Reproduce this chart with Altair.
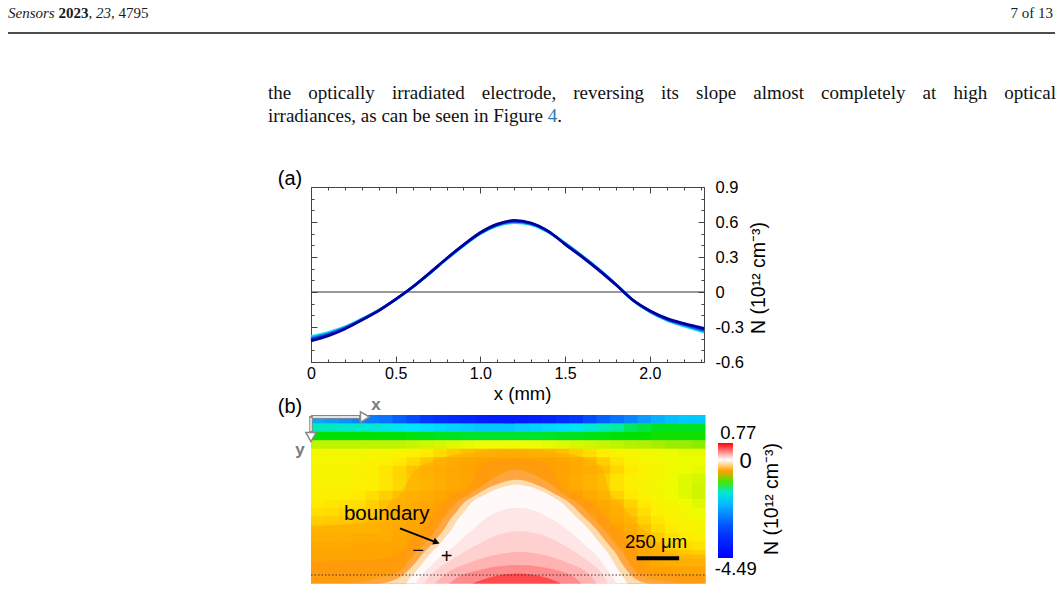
import altair as alt
import pandas as pd

W, H = 1061, 608
SANS = "Liberation Sans"
SERIF = "Liberation Serif"

# ---------------- page text ----------------
header_journal = "Sensors"
header_year = "2023"
header_volume = "23"
header_article = "4795"
header_page = "7 of 13"
body_line1 = "the optically irradiated electrode, reversing its slope almost completely at high optical"
body_line2 = "irradiances, as can be seen in Figure"
body_ref = "4"

# ---------------- (a) N(x) profiles ----------------
x_mm = [0.0, 0.1, 0.2, 0.3, 0.4, 0.5, 0.6, 0.7, 0.8, 0.9, 1.0, 1.1, 1.2,
        1.3, 1.4, 1.5, 1.6, 1.7, 1.8, 1.9, 2.0, 2.1, 2.2, 2.3, 2.32]
n_s1 = [-0.380, -0.347, -0.298, -0.230, -0.155, -0.063, 0.040, 0.157, 0.280, 0.395, 0.499, 0.567, 0.594,
        0.576, 0.513, 0.420, 0.312, 0.195, 0.067, -0.072, -0.171, -0.243, -0.292, -0.336, -0.345]
n_s2 = [-0.390, -0.355, -0.303, -0.233, -0.157, -0.063, 0.041, 0.159, 0.282, 0.398, 0.502, 0.571, 0.599,
        0.580, 0.516, 0.417, 0.309, 0.193, 0.066, -0.071, -0.168, -0.239, -0.286, -0.328, -0.337]
n_s3 = [-0.400, -0.362, -0.308, -0.236, -0.158, -0.063, 0.042, 0.160, 0.284, 0.400, 0.505, 0.575, 0.604,
        0.584, 0.518, 0.414, 0.306, 0.190, 0.064, -0.070, -0.165, -0.234, -0.280, -0.320, -0.328]
n_s4 = [-0.410, -0.370, -0.313, -0.239, -0.160, -0.063, 0.043, 0.162, 0.286, 0.403, 0.508, 0.579, 0.609,
        0.588, 0.521, 0.411, 0.303, 0.188, 0.063, -0.069, -0.162, -0.230, -0.274, -0.312, -0.320]
n_s5 = [-0.420, -0.377, -0.318, -0.242, -0.161, -0.063, 0.044, 0.163, 0.288, 0.405, 0.511, 0.583, 0.614,
        0.592, 0.523, 0.408, 0.300, 0.185, 0.061, -0.068, -0.159, -0.225, -0.268, -0.304, -0.311]
profile_names = ["s1", "s2", "s3", "s4", "s5"]
profile_colors = ["#1fe3f5", "#16a6f2", "#0b5fe6", "#0522c8", "#00009c"]

ticks_x_major = [0, 0.5, 1.0, 1.5, 2.0]
ticks_x_minor = [0.1, 0.2, 0.3, 0.4, 0.6, 0.7, 0.8, 0.9, 1.1, 1.2, 1.3, 1.4,
                 1.6, 1.7, 1.8, 1.9, 2.1, 2.2, 2.3]
ticks_y_major = [-0.6, -0.3, 0, 0.3, 0.6, 0.9]
ticks_y_minor = [-0.5, -0.4, -0.2, -0.1, 0.1, 0.2, 0.4, 0.5, 0.7, 0.8]

# ---------------- (b) N(x, y) map: 20 rows (top to bottom) x 29 columns ----------------
map_dx = 0.08   # mm per column
map_dy = 0.05   # mm per row
r00 = [-2.2, -2.3, -2.4, -2.5, -2.6, -2.7, -2.9, -3.1, -3.3, -3.5, -3.6, -3.7, -3.8, -3.9, -3.9,
       -3.9, -3.8, -3.7, -3.5, -3.3, -3.1, -2.9, -2.7, -2.5, -2.3, -2.1, -2.0, -1.9, -1.9]
r01 = [-1.4, -1.4, -1.45, -1.45, -1.5, -1.55, -1.6, -1.65, -1.7, -1.75, -1.8, -1.85, -1.9, -1.9, -1.9,
       -1.85, -1.8, -1.75, -1.7, -1.6, -1.5, -1.4, -1.3, -1.2, -1.15, -1.1, -1.1, -1.1, -1.1]
r02 = [-1.05, -1.05, -1.05, -1.05, -1.05, -1.06, -1.06, -1.07, -1.08, -1.09, -1.1, -1.11, -1.12, -1.12, -1.12,
       -1.12, -1.12, -1.11, -1.1, -1.09, -1.08, -1.07, -1.06, -1.05, -1.05, -1.04, -1.04, -1.04, -1.04]
r03 = [-0.9, -0.9, -0.9, -0.9, -0.9, -0.9, -0.9, -0.89, -0.88, -0.87, -0.86, -0.85, -0.84, -0.83, -0.83,
       -0.83, -0.84, -0.85, -0.86, -0.87, -0.88, -0.89, -0.9, -0.91, -0.92, -0.93, -0.94, -0.94, -0.95]
r04 = [-0.81, -0.81, -0.81, -0.81, -0.8, -0.79, -0.78, -0.76, -0.73, -0.69, -0.65, -0.62, -0.59, -0.57, -0.56,
       -0.56, -0.57, -0.59, -0.62, -0.66, -0.7, -0.74, -0.78, -0.8, -0.82, -0.83, -0.84, -0.85, -0.85]
r05 = [-0.8, -0.8, -0.79, -0.79, -0.78, -0.76, -0.73, -0.69, -0.64, -0.58, -0.53, -0.49, -0.46, -0.44, -0.43,
       -0.43, -0.44, -0.46, -0.49, -0.54, -0.6, -0.66, -0.72, -0.76, -0.79, -0.81, -0.83, -0.84, -0.84]
r06 = [-0.79, -0.79, -0.78, -0.77, -0.75, -0.72, -0.68, -0.63, -0.58, -0.54, -0.5, -0.47, -0.44, -0.38, -0.3,
       -0.3, -0.37, -0.44, -0.47, -0.51, -0.56, -0.62, -0.68, -0.73, -0.77, -0.8, -0.82, -0.84, -0.85]
r07 = [-0.78, -0.78, -0.78, -0.77, -0.75, -0.72, -0.68, -0.64, -0.6, -0.56, -0.52, -0.48, -0.43, -0.3, -0.12,
       -0.12, -0.28, -0.42, -0.48, -0.54, -0.6, -0.66, -0.71, -0.75, -0.78, -0.81, -0.84, -0.86, -0.87]
r08 = [-0.77, -0.77, -0.77, -0.76, -0.75, -0.72, -0.68, -0.64, -0.6, -0.56, -0.52, -0.48, -0.42, -0.2, 0.005,
       0.008, -0.14, -0.38, -0.47, -0.53, -0.6, -0.66, -0.71, -0.75, -0.78, -0.81, -0.84, -0.86, -0.88]
r09 = [-0.75, -0.75, -0.74, -0.73, -0.7, -0.66, -0.62, -0.58, -0.54, -0.5, -0.45, -0.32, -0.06, 0.016, 0.028,
       0.029, 0.02, 0.0, -0.26, -0.44, -0.52, -0.6, -0.67, -0.73, -0.77, -0.8, -0.83, -0.86, -0.88]
r10 = [-0.73, -0.72, -0.71, -0.7, -0.66, -0.62, -0.58, -0.54, -0.5, -0.45, -0.32, -0.06, 0.02, 0.038, 0.048,
       0.05, 0.04, 0.025, 0.0, -0.26, -0.44, -0.52, -0.6, -0.67, -0.73, -0.77, -0.8, -0.83, -0.86]
r11 = [-0.7, -0.69, -0.68, -0.67, -0.64, -0.6, -0.56, -0.52, -0.48, -0.42, -0.2, 0.005, 0.037, 0.057, 0.068,
       0.07, 0.062, 0.045, 0.02, -0.1, -0.35, -0.48, -0.56, -0.64, -0.7, -0.75, -0.78, -0.81, -0.84]
r12 = [-0.66, -0.65, -0.64, -0.63, -0.62, -0.58, -0.54, -0.5, -0.45, -0.32, -0.06, 0.03, 0.055, 0.075, 0.087,
       0.09, 0.083, 0.067, 0.043, 0.01, -0.2, -0.42, -0.52, -0.6, -0.67, -0.72, -0.76, -0.79, -0.81]
r13 = [-0.62, -0.61, -0.61, -0.6, -0.6, -0.56, -0.52, -0.48, -0.43, -0.23, 0.003, 0.045, 0.07, 0.095, 0.107,
       0.11, 0.105, 0.09, 0.067, 0.035, -0.03, -0.29, -0.46, -0.55, -0.63, -0.69, -0.73, -0.76, -0.78]
r14 = [-0.57, -0.56, -0.56, -0.55, -0.55, -0.55, -0.5, -0.46, -0.35, -0.1, 0.03, 0.07, 0.1, 0.12, 0.14,
       0.14, 0.13, 0.12, 0.1, 0.06, 0.02, -0.17, -0.4, -0.5, -0.58, -0.65, -0.7, -0.73, -0.75]
r15 = [-0.52, -0.51, -0.51, -0.5, -0.5, -0.5, -0.48, -0.43, -0.23, 0.005, 0.06, 0.1, 0.13, 0.15, 0.17,
       0.17, 0.16, 0.15, 0.12, 0.09, 0.05, -0.03, -0.29, -0.45, -0.54, -0.61, -0.66, -0.69, -0.71]
r16 = [-0.49, -0.49, -0.49, -0.48, -0.48, -0.48, -0.45, -0.32, -0.06, 0.045, 0.1, 0.14, 0.17, 0.19, 0.21,
       0.21, 0.2, 0.19, 0.16, 0.12, 0.08, 0.02, -0.17, -0.4, -0.5, -0.57, -0.61, -0.64, -0.66]
r17 = [-0.45, -0.46, -0.46, -0.46, -0.46, -0.46, -0.42, -0.2, 0.02, 0.09, 0.15, 0.19, 0.23, 0.25, 0.27,
       0.27, 0.26, 0.24, 0.21, 0.17, 0.12, 0.05, -0.06, -0.32, -0.46, -0.52, -0.55, -0.57, -0.58]
r18 = [-0.42, -0.43, -0.44, -0.45, -0.45, -0.44, -0.32, -0.06, 0.07, 0.15, 0.22, 0.27, 0.31, 0.34, 0.36,
       0.36, 0.35, 0.33, 0.29, 0.24, 0.18, 0.1, 0.015, -0.23, -0.42, -0.46, -0.47, -0.48, -0.48]
r19 = [-0.39, -0.355, -0.308, -0.25, -0.19, -0.12, -0.04, 0.042, 0.136, 0.234, 0.33, 0.42, 0.505, 0.56, 0.595,
       0.598, 0.57, 0.518, 0.435, 0.35, 0.26, 0.165, 0.064, -0.045, -0.13, -0.195, -0.245, -0.28, -0.312]
map_rows = [r00, r01, r02, r03, r04, r05, r06, r07, r08, r09,
            r10, r11, r12, r13, r14, r15, r16, r17, r18, r19]

# iso-lines of N (x in mm, depth in mm), outermost first; each encloses the region above its level
iso_m62_x = [0.0, 0.2, 0.36, 0.42, 0.46, 0.52, 0.61, 0.71, 0.92, 1.2, 1.48, 1.66, 1.72, 1.76,
             1.82, 1.86, 1.9, 1.95, 2.0, 2.05, 2.14, 2.32]
iso_m62_d = [0.665, 0.65, 0.625, 0.575, 0.525, 0.475, 0.33, 0.275, 0.225, 0.205, 0.225, 0.275, 0.33, 0.475,
             0.525, 0.575, 0.625, 0.675, 0.725, 0.775, 0.825, 0.83]
iso_m45_x = [0.0, 0.3, 0.5, 0.56, 0.61, 0.66, 0.70, 0.75, 0.84, 0.93, 0.98, 1.06, 1.2, 1.34,
             1.42, 1.47, 1.57, 1.65, 1.70, 1.75, 1.79, 1.84, 1.88, 1.92, 1.95, 2.0, 2.32]
iso_m45_d = [0.87, 0.86, 0.835, 0.79, 0.725, 0.675, 0.61, 0.55, 0.475, 0.425, 0.33, 0.275, 0.26, 0.275,
             0.33, 0.425, 0.475, 0.525, 0.575, 0.625, 0.675, 0.725, 0.775, 0.825, 0.875, 0.925, 0.95]
iso_m30_x = [0.19, 0.38, 0.525, 0.57, 0.61, 0.66, 0.70, 0.74, 0.77, 0.81, 0.85, 0.92, 1.0, 1.08, 1.21,
             1.34, 1.43, 1.49, 1.57, 1.62, 1.67, 1.72, 1.76, 1.80, 1.84, 1.87, 1.905, 2.0, 2.26]
iso_m30_d = [1.0, 0.975, 0.925, 0.875, 0.825, 0.775, 0.725, 0.675, 0.625, 0.575, 0.525, 0.475, 0.425, 0.37, 0.325,
             0.37, 0.425, 0.475, 0.525, 0.575, 0.625, 0.675, 0.725, 0.775, 0.825, 0.875, 0.925, 0.975, 1.0]
iso_m15_x = [0.40, 0.50, 0.57, 0.615, 0.655, 0.705, 0.745, 0.785, 0.815, 0.855, 0.895, 0.97, 1.06, 1.21,
             1.35, 1.445, 1.525, 1.575, 1.625, 1.675, 1.715, 1.755, 1.795, 1.825, 1.86, 1.91, 1.99]
iso_m15_d = [1.0, 0.975, 0.925, 0.875, 0.825, 0.775, 0.725, 0.675, 0.625, 0.575, 0.525, 0.475, 0.425, 0.385,
             0.425, 0.475, 0.525, 0.575, 0.625, 0.675, 0.725, 0.775, 0.825, 0.875, 0.925, 0.975, 1.0]
iso_00_x = [0.56, 0.575, 0.62, 0.66, 0.70, 0.75, 0.79, 0.83, 0.86, 0.90, 0.94, 1.02, 1.14, 1.21,
            1.28, 1.40, 1.48, 1.53, 1.58, 1.63, 1.67, 1.71, 1.75, 1.78, 1.81, 1.845, 1.86]
iso_00_d = [1.0, 0.975, 0.925, 0.875, 0.825, 0.775, 0.725, 0.675, 0.625, 0.575, 0.525, 0.475, 0.425, 0.412,
            0.425, 0.475, 0.525, 0.575, 0.625, 0.675, 0.725, 0.775, 0.825, 0.875, 0.925, 0.975, 1.0]
iso_06_x = [0.615, 0.65, 0.70, 0.78, 0.845, 0.897, 0.96, 1.012, 1.095, 1.215,
            1.335, 1.428, 1.50, 1.563, 1.615, 1.67, 1.73, 1.765, 1.80]
iso_06_d = [1.0, 0.95, 0.9, 0.825, 0.775, 0.725, 0.675, 0.625, 0.575, 0.55,
            0.575, 0.625, 0.675, 0.725, 0.775, 0.825, 0.9, 0.95, 1.0]
iso_12_x = [0.665, 0.695, 0.73, 0.80, 0.88, 0.97, 1.064, 1.22, 1.396, 1.49, 1.57, 1.64, 1.70, 1.725, 1.745]
iso_12_d = [1.0, 0.96, 0.925, 0.875, 0.825, 0.775, 0.725, 0.69, 0.725, 0.775, 0.825, 0.875, 0.925, 0.96, 1.0]
iso_20_x = [0.73, 0.77, 0.82, 0.935, 1.11, 1.225, 1.34, 1.505, 1.61, 1.65, 1.68]
iso_20_d = [1.0, 0.96, 0.925, 0.875, 0.825, 0.812, 0.825, 0.875, 0.925, 0.96, 1.0]
iso_30_x = [0.815, 0.86, 0.972, 1.215, 1.458, 1.55, 1.59]
iso_30_d = [1.0, 0.965, 0.925, 0.89, 0.925, 0.965, 1.0]
iso_45_x = [0.95, 1.05, 1.215, 1.38, 1.47]
iso_45_d = [1.0, 0.965, 0.94, 0.965, 1.0]
iso_fill = [-0.54, -0.4, -0.25, -0.1, 0.02, 0.08, 0.15, 0.24, 0.36, 0.55]
# outer bands are laid semi-transparently over the cell map so their edges blend into it
iso_alpha = [0.55, 0.7, 1, 1, 1, 1, 1, 1, 1, 1]

cbar_min, cbar_max = -4.49, 0.77
cbar_stops = [cbar_min, -3.3, -2.4, -1.65, -1.3, -1.05, -0.93, -0.84, -0.74, -0.62, -0.45, -0.25, -0.1,
              0.0, 0.3, cbar_max]
cbar_colors = ["#0000ff", "#0038ff", "#0a90ff", "#00e4ff", "#00eca0", "#00e000", "#a8ee00", "#eefc00",
               "#ffee00", "#ffc000", "#ff9400", "#ffa640", "#ffdcb0", "#ffffff", "#ffa0a0", "#ff0000"]
scale_bar_mm = 0.25
scale_bar_start = 1.915
unit_label = "N (10\u00b9\u00b2 cm\u207b\u00b3)"

# ---------------- tables ----------------
profiles = pd.DataFrame([
    {"x": xv, "N": nv, "run": name}
    for name, ys in zip(profile_names, [n_s1, n_s2, n_s3, n_s4, n_s5])
    for xv, nv in zip(x_mm, ys)
])
zero_ref = pd.DataFrame({"x_from": [x_mm[0]], "x_to": [x_mm[-1]], "level": [0.0]})
# cells overlap their neighbours by a hair so no anti-aliasing seams show between them
seam_x, seam_y = 0.004, 0.003
cells = pd.DataFrame([
    {"x0": i * map_dx, "x1": min((i + 1) * map_dx + seam_x, 2.32),
     "y0": j * map_dy, "y1": min((j + 1) * map_dy + seam_y, 1.0), "N": v}
    for j, row in enumerate(map_rows) for i, v in enumerate(row)
])
iso_lines = [(iso_m62_x, iso_m62_d), (iso_m45_x, iso_m45_d), (iso_m30_x, iso_m30_d), (iso_m15_x, iso_m15_d),
             (iso_00_x, iso_00_d), (iso_06_x, iso_06_d), (iso_12_x, iso_12_d), (iso_20_x, iso_20_d),
             (iso_30_x, iso_30_d), (iso_45_x, iso_45_d)]
bar = pd.DataFrame({"s": [scale_bar_start], "e": [scale_bar_start + scale_bar_mm]})
ONE = pd.DataFrame({"k": [0]})

# ---------------- text layout helpers ----------------
TIMES_EM = {" ": .25, ",": .25, ".": .25, "a": .444, "b": .5, "c": .444, "d": .5, "e": .444,
            "f": .333, "g": .5, "h": .5, "i": .278, "j": .278, "k": .5, "l": .278, "m": .778,
            "n": .5, "o": .5, "p": .5, "q": .5, "r": .333, "s": .389, "t": .278, "u": .5,
            "v": .5, "w": .722, "x": .5, "y": .5, "z": .444, "F": .556, "S": .556}


def em_width(s):
    return sum(TIMES_EM.get(c, 0.5) for c in s)


def txt(label, x, y, size, color="#000", font=SANS, align="center", baseline="middle",
        angle=0, weight="normal", style="normal"):
    return alt.Chart(pd.DataFrame({"label": [label]})).mark_text(
        align=align, baseline=baseline, font=font, fontSize=size, color=color,
        angle=angle, fontWeight=weight, fontStyle=style,
    ).encode(text="label:N", x=alt.value(x), y=alt.value(y))


def seg(x1, y1, x2, y2, color, width, dash=None):
    kw = dict(color=color, strokeWidth=width)
    if dash:
        kw["strokeDash"] = dash
    return alt.Chart(ONE).mark_rule(**kw).encode(
        x=alt.value(x1), y=alt.value(y1), x2=alt.value(x2), y2=alt.value(y2))


def head(x, y, shape, size, angle=0, fill="#000", stroke="#000", sw=0.0):
    return alt.Chart(ONE).mark_point(
        shape=shape, size=size, angle=angle, filled=True, fill=fill,
        stroke=stroke, strokeWidth=sw, opacity=1,
    ).encode(x=alt.value(x), y=alt.value(y))


layers = []

# page header
HS = 15
HY = 18
hx_year = 8 + em_width(header_journal + " ") * HS
hx_c1 = hx_year + em_width(header_year) * HS
hx_vol = hx_c1 + em_width(", ") * HS
hx_c2 = hx_vol + em_width(header_volume) * HS
layers += [
    txt(header_journal, 8, HY, HS, "#1a1a1a", SERIF, "left", "alphabetic", style="italic"),
    txt(header_year, hx_year, HY, HS, "#1a1a1a", SERIF, "left", "alphabetic", weight="bold"),
    txt(",", hx_c1, HY, HS, "#1a1a1a", SERIF, "left", "alphabetic"),
    txt(header_volume, hx_vol, HY, HS, "#1a1a1a", SERIF, "left", "alphabetic", style="italic"),
    txt(", " + header_article, hx_c2, HY, HS, "#1a1a1a", SERIF, "left", "alphabetic"),
    txt(header_page, 1053, HY, HS, "#1a1a1a", SERIF, "right", "alphabetic"),
    seg(8, 33, 1055, 33, "#111", 1.3),
]

# body paragraph, first line justified between the margins
BS = 19
left_margin, right_margin = 268, 1056
words = body_line1.split()
wpx = [em_width(w) * BS for w in words]
gap = (right_margin - left_margin - sum(wpx)) / (len(words) - 1)
pos, cur = [], left_margin
for w in wpx:
    pos.append(cur)
    cur += w + gap
line1 = pd.DataFrame({"word": words, "px": pos})
layers.append(
    alt.Chart(line1).mark_text(align="left", baseline="alphabetic", font=SERIF, fontSize=BS, color="#111")
    .encode(text="word:N", x=alt.X("px:Q", scale=None), y=alt.value(99))
)
ref_x = left_margin + em_width(body_line2 + " ") * BS
layers += [
    txt(body_line2, left_margin, 122, BS, "#111", SERIF, "left", "alphabetic"),
    txt(body_ref, ref_x, 122, BS, "#2a7ab8", SERIF, "left", "alphabetic"),
    txt(".", ref_x + em_width(body_ref) * BS, 122, BS, "#111", SERIF, "left", "alphabetic"),
]

# ---------------- panel (b) ----------------
B_BOTTOM = 583.5


def bx():
    return alt.Scale(domain=[0, 2.32], range=[311, 705.5], nice=False, zero=False)


def by():
    return alt.Scale(domain=[0, 1.0], range=[415, B_BOTTOM], nice=False, zero=False)


def cmap():
    return alt.Scale(type="linear", domain=cbar_stops, range=cbar_colors, interpolate="rgb", clamp=True)


b_map = alt.Chart(cells).mark_rect(strokeWidth=0).encode(
    x=alt.X("x0:Q", scale=bx(), axis=None),
    x2="x1:Q",
    y=alt.Y("y0:Q", scale=by(), axis=None),
    y2="y1:Q",
    color=alt.Color("N:Q", scale=cmap(), legend=alt.Legend(
        type="gradient", orient="none", legendX=718, legendY=443, direction="vertical",
        gradientLength=115, gradientThickness=15, title=None, labelOpacity=0,
        gradientStrokeWidth=0, padding=0)),
)
layers.append(b_map)

for (ix, idp), fill_v, alpha in zip(iso_lines, iso_fill, iso_alpha):
    band = pd.DataFrame({"x": ix, "d": idp, "N": [fill_v] * len(ix)})
    layers.append(
        alt.Chart(band).mark_area(interpolate="monotone", opacity=alpha).encode(
            x=alt.X("x:Q", scale=bx(), axis=None),
            y=alt.Y("d:Q", scale=by(), axis=None, stack=None),
            y2=alt.value(B_BOTTOM),
            color=alt.Color("N:Q", scale=cmap(), legend=None),
        )
    )

b_bar = alt.Chart(bar).mark_rule(color="#000", strokeWidth=4).encode(
    x=alt.X("s:Q", scale=bx(), axis=None), x2="e:Q", y=alt.value(558.3))

layers += [
    seg(311, 575, 705, 575, "#333", 1, [1.5, 2]),
    b_bar,
    txt("250 \u03bcm", 656, 542, 18.5),
    txt("boundary", 386.7, 514, 20.5),
    seg(400, 528.3, 435, 541.8, "#000", 1.8),
    head(436.5, 542.3, "triangle-right", 55, angle=21),
    txt("\u2212", 418, 551, 20),
    txt("+", 446.7, 557, 20),
    # coordinate system arrows
    seg(311, 417, 360, 417, "#8a8a8a", 3.6),
    seg(312.5, 417, 359, 417, "#ffffff", 1.3),
    head(365, 417, "triangle-right", 110, fill="#ffffff", stroke="#8a8a8a", sw=1.5),
    seg(311, 416, 311, 432, "#8a8a8a", 3.6),
    seg(311, 418, 311, 431, "#ffffff", 1.3),
    head(311, 437, "triangle-down", 110, fill="#ffffff", stroke="#8a8a8a", sw=1.5),
    txt("x", 376, 405, 17, "#7a7a7a", weight="bold"),
    txt("y", 300, 450, 17, "#7a7a7a", weight="bold"),
    txt("(b)", 290, 407, 20),
    txt(str(cbar_max), 738.3, 433.3, 18.5),
    txt("0", 745.5, 461.3, 22),
    txt(str(cbar_min), 735.8, 569, 18.5),
    txt(unit_label, 771.5, 499, 19.5, angle=270),
]

# ---------------- panel (a) ----------------
def ax():
    return alt.Scale(domain=[0, 2.32], range=[311, 704], nice=False, zero=False)


def ay():
    return alt.Scale(domain=[-0.6, 0.9], range=[362, 187], nice=False, zero=False)


def tick_axis(orient, offset, values, size, domain):
    return alt.Axis(orient=orient, offset=offset, values=values, labels=False, tickSize=size,
                    domain=domain, grid=False, title=None, tickColor="#444", domainColor="#444")


a_lines = alt.Chart(profiles).mark_line(strokeWidth=2.5, interpolate="monotone").encode(
    x=alt.X("x:Q", scale=ax(), axis=alt.Axis(
        orient="bottom", offset=362 - H, values=ticks_x_major,
        labelExpr="datum.value == 0 ? '0' : format(datum.value, '.1f')",
        ticks=False, domain=False, grid=False, labelPadding=3, labelFontSize=16,
        labelFlush=False, labelOverlap=False, title=None)),
    y=alt.Y("N:Q", scale=ay(), axis=alt.Axis(
        orient="right", offset=704 - W, values=ticks_y_major,
        labelExpr="datum.value == 0 ? '0' : toString(datum.value)",
        ticks=False, domain=False, grid=False, labelPadding=11, labelFontSize=16.5,
        labelFlush=False, labelOverlap=False, title=None)),
    color=alt.Color("run:N", scale=alt.Scale(domain=profile_names, range=profile_colors), legend=None),
)
a_zero = alt.Chart(zero_ref).mark_rule(color="#333", strokeWidth=1).encode(
    x=alt.X("x_from:Q", scale=ax(), axis=tick_axis("top", -362, ticks_x_minor, 3, True)),
    x2="x_to:Q",
    y=alt.Y("level:Q", scale=ay(), axis=tick_axis("right", 311 - W, ticks_y_minor, 3, True)),
)


def frame(xa, ya):
    return alt.Chart(zero_ref).mark_point(opacity=0).encode(
        x=alt.X("x_from:Q", scale=ax(), axis=xa),
        y=alt.Y("level:Q", scale=ay(), axis=ya),
    )


layers += [
    a_zero,
    frame(tick_axis("bottom", 187 - H, ticks_x_minor, 3, True), tick_axis("left", -704, ticks_y_minor, 3, True)),
    frame(tick_axis("top", -362, ticks_x_major, 6, False), tick_axis("right", 311 - W, ticks_y_major, 6, False)),
    frame(tick_axis("bottom", 187 - H, ticks_x_major, 6, False), tick_axis("left", -704, ticks_y_major, 6, False)),
    a_lines,
    txt("(a)", 290, 179, 20),
    txt("x (mm)", 522.6, 394, 18.5),
    txt(unit_label, 759, 278, 19.5, angle=270),
]

chart = (
    alt.layer(*layers)
    .resolve_scale(x="independent", y="independent", color="independent")
    .properties(width=W, height=H, padding=0, autosize=alt.AutoSizeParams(type="none"), background="white")
    .configure_view(stroke=None)
    .configure_axis(labelFont=SANS, labelColor="#000", tickColor="#444", domainColor="#444",
                    domainWidth=1, tickWidth=1)
)
chart.save("out.html", embed_options={"renderer": "svg", "actions": False})
